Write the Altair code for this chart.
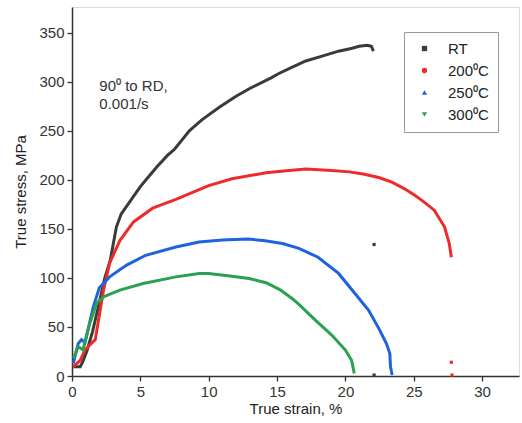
import altair as alt
import pandas as pd

# ---- data ----
series_names = ["RT", "200⁰C", "250⁰C", "300⁰C"]
series_colors = ["#3a3a3a", "#ee2b2b", "#1f62e0", "#2aa052"]
series_shapes = ["square", "circle", "triangle-up", "triangle-down"]

rt_x = [0.1, 0.6, 0.8, 1.1, 1.5, 2.0, 2.4, 2.8, 3.25, 3.6, 3.9, 4.5, 5.0, 5.6, 6.2, 7.0, 7.5,
        8.6, 9.5, 10.8, 12.0, 13.0, 14.6, 15.1, 16.0, 17.1, 18.3, 19.5, 20.5, 21.0, 21.6, 21.9, 22.05]
rt_y = [9.5, 9.5, 15, 26, 45, 75, 100, 118, 152, 165, 171, 183, 193, 203, 213, 225, 231,
        250, 261, 274, 285, 293, 304, 308, 314, 321, 326, 331, 334, 336, 337, 336, 331]

t200_x = [0.1, 0.6, 0.95, 1.4, 1.7, 2.0, 2.3, 2.75, 3.5, 4.5, 5.9, 7.6, 9.3, 10.0, 11.7, 14.2,
          15.5, 17.1, 19.0, 20.3, 21.4, 22.5, 23.4, 24.3, 25.1, 25.6, 26.5, 27.25, 27.6, 27.75]
t200_y = [9.5, 16, 26.5, 33, 37, 62, 87, 115, 138, 157, 171, 180, 190, 194, 201, 207,
          209, 211, 209.5, 208, 205.5, 202, 197.5, 191, 184, 179, 169, 152, 135, 121]

t250_x = [0.1, 0.45, 0.7, 0.95, 1.3, 1.55, 2.0, 2.75, 4.0, 5.4, 7.6, 9.3, 11.0, 12.9, 14.0,
          15.4, 16.6, 18.0, 19.5, 20.7, 21.7, 22.5, 23.0, 23.25, 23.3, 23.42]
t250_y = [13, 33, 37, 34, 55, 70, 90, 101, 113, 123, 131.5, 136.5, 138.5, 139.5, 138,
          135, 130, 121, 104.5, 84, 67, 47, 33, 23, 9.5, 1]

t300_x = [0.1, 0.45, 0.8, 1.3, 1.8, 2.3, 3.5, 5.2, 7.6, 9.3, 10.0, 11.7, 12.95, 14.2, 15.2,
          16.1, 16.6, 17.8, 19.0, 20.0, 20.45, 20.65]
t300_y = [18, 30, 26.5, 53.6, 74, 80.7, 87.5, 94.3, 101, 104.5, 104.5, 101.7, 99.4, 95, 88,
          79, 73, 57, 41.7, 26.4, 16, 2.7]

# isolated stray points
stray_series = ["RT", "RT", "200⁰C", "200⁰C"]
stray_x = [22.1, 22.1, 27.75, 27.8]
stray_y = [134, 1, 14, 1]

note_lines = ["90⁰ to RD,", "0.001/s"]
note_x = [2.0, 2.0]
note_y = [296, 277]

x_ticks = [0, 2.5, 5, 7.5, 10, 12.5, 15, 17.5, 20, 22.5, 25, 27.5, 30, 32.5]
y_ticks = [0, 25, 50, 75, 100, 125, 150, 175, 200, 225, 250, 275, 300, 325, 350, 375]

# ---- build tables ----
rows = []
for name, xs, ys in zip(series_names, [rt_x, t200_x, t250_x, t300_x],
                        [rt_y, t200_y, t250_y, t300_y]):
    for i, (a, b) in enumerate(zip(xs, ys)):
        rows.append({"curve": name, "x": a, "y": b, "order": i})
curves = pd.DataFrame(rows)
stray = pd.DataFrame({"series": stray_series, "x": stray_x, "y": stray_y})
notes = pd.DataFrame({"t": note_lines, "x": note_x, "y": note_y})

FONT = "Liberation Sans"

xscale = alt.Scale(domain=[0, 32.7], nice=False, zero=False)
yscale = alt.Scale(domain=[0, 376], nice=False, zero=False)

xaxis = alt.Axis(title="True strain, %", values=x_ticks,
                 labelExpr="datum.value % 5 === 0 ? datum.label : ''",
                 tickSize=alt.ExprRef("datum.value % 5 === 0 ? 5 : 3"),
                 grid=False, labelFontSize=15, titleFontSize=15,
                 labelFont=FONT, titleFont=FONT, labelColor="#333", titleColor="#222",
                 domainColor="#333", tickColor="#333", domainWidth=1.5, tickWidth=1.3,
                 labelPadding=3, titlePadding=2, titleFontWeight="normal", labelFlush=False)
yaxis = alt.Axis(title="True stress, MPa", values=y_ticks,
                 labelExpr="datum.value % 50 === 0 ? datum.label : ''",
                 tickSize=alt.ExprRef("datum.value % 50 === 0 ? 5 : 3"),
                 grid=False, labelFontSize=15, titleFontSize=15,
                 labelFont=FONT, titleFont=FONT, labelColor="#333", titleColor="#222",
                 domainColor="#333", tickColor="#333", domainWidth=1.5, tickWidth=1.3,
                 labelPadding=3, titlePadding=10, titleFontWeight="normal", labelFlush=False)

lines = alt.Chart(curves).mark_line(strokeWidth=3, clip=True).encode(
    x=alt.X("x:Q", scale=xscale, axis=xaxis),
    y=alt.Y("y:Q", scale=yscale, axis=yaxis),
    stroke=alt.Stroke("curve:N", scale=alt.Scale(domain=series_names, range=series_colors),
                      legend=None),
    detail="curve:N",
    order="order:Q",
)

shape_expr = "[" + ",".join("'" + s + "'" for s in series_shapes) + "][datum.index]"

leg = alt.Legend(title=None, orient="none", legendX=332, legendY=25,
                 labelFontSize=15, labelFont=FONT, labelColor="#222",
                 symbolSize=28, symbolStrokeWidth=0, rowPadding=6,
                 padding=9, labelOffset=16, symbolOffset=4,
                 symbolType=alt.ExprRef(shape_expr),
                 strokeColor="#999", fillColor="white")

points = alt.Chart(stray).mark_point(filled=True, size=10, opacity=1, shape="square").encode(
    x=alt.X("x:Q", scale=xscale),
    y=alt.Y("y:Q", scale=yscale),
    color=alt.Color("series:N", scale=alt.Scale(domain=series_names, range=series_colors),
                    legend=leg),
)

text = alt.Chart(notes).mark_text(align="left", baseline="middle", fontSize=15,
                                  font=FONT, color="#333").encode(
    x=alt.X("x:Q", scale=xscale),
    y=alt.Y("y:Q", scale=yscale),
    text="t:N",
)

chart = alt.layer(lines, points, text).resolve_scale(
    color="independent", stroke="independent"
).properties(
    width=447, height=369,
    autosize=alt.AutoSizeParams(type="none"),
    padding={"left": 72, "top": 7, "right": 3, "bottom": 47},
).configure_view(stroke=None).configure(background="white")

chart.save("out.html", embed_options={"renderer": "svg", "actions": False})
